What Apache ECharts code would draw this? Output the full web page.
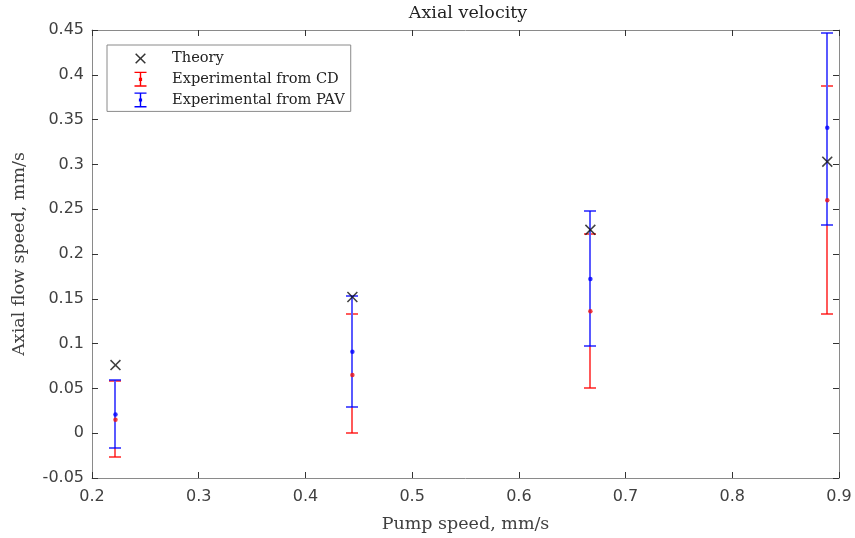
<!DOCTYPE html>
<html>
<head>
<meta charset="utf-8">
<script src="https://cdn.jsdelivr.net/npm/echarts@6/dist/echarts.min.js"></script>
<style>html,body{margin:0;padding:0;background:#fff;}#c{width:855px;height:538px;}</style>
</head>
<body>
<div id="c"></div>
<script>
const pumpSpeed = [0.222, 0.444, 0.667, 0.889];
const theory    = [0.076, 0.152, 0.227, 0.303];
const cdMean    = [0.015, 0.065, 0.136, 0.260];
const cdLow     = [-0.027, 0.000, 0.051, 0.133];
const cdHigh    = [0.058, 0.133, 0.222, 0.388];
const pavMean   = [0.021, 0.091, 0.172, 0.341];
const pavLow    = [-0.016, 0.029, 0.097, 0.232];
const pavHigh   = [0.059, 0.153, 0.248, 0.447];
const xTicks = { min: 0.2, max: 0.9, interval: 0.1 };
const yTicks = { min: -0.05, max: 0.45, interval: 0.05 };

const crossPath = 'path://M0,1L1,0L5,4L9,0L10,1L6,5L10,9L9,10L5,6L1,10L0,9L4,5Z';
const crossLegend = 'path://M-2,-2M12,12M0,1L1,0L5,4L9,0L10,1L6,5L10,9L9,10L5,6L1,10L0,9L4,5Z';
const errLegend = 'path://M0,0H12V1.4H6.7V13.6H12V15H0V13.6H5.3V1.4H0Z M4.4,6H7.6V9.2H4.4Z';

function errRender(color, underlay) {
  return function (params, api) {
    const x = api.value(0), lo = api.value(1), hi = api.value(2);
    const pL = api.coord([x, lo]), pH = api.coord([x, hi]);
    const px = Math.round(pL[0]), yl = Math.round(pL[1]), yh = Math.round(pH[1]);
    const hw = 6;
    const st = { stroke: color, lineWidth: 1.3 };
    const children = [];
    if (underlay) {
      children.push({ type: 'line', shape: { x1: px, y1: yl, x2: px, y2: yh }, style: { stroke: '#fff', lineWidth: 2 } });
    }
    children.push(
      { type: 'line', shape: { x1: px, y1: yl, x2: px, y2: yh }, style: st },
      { type: 'line', shape: { x1: px - hw, y1: yl, x2: px + hw, y2: yl }, style: st },
      { type: 'line', shape: { x1: px - hw, y1: yh, x2: px + hw, y2: yh }, style: st }
    );
    return { type: 'group', children: children };
  };
}

const axisColor = '#8a8a8a';
const labelColor = '#404040';
const fmt = v => String(+v.toFixed(2));

function xAx(pos, show) {
  return {
    type: 'value', position: pos, min: xTicks.min, max: xTicks.max, interval: xTicks.interval,
    axisLine: { show: true, onZero: false, lineStyle: { color: axisColor, width: 1 } },
    axisTick: { show: true, inside: true, length: 6, lineStyle: { color: '#333' } },
    axisLabel: { show: show, formatter: fmt, margin: 11, color: labelColor, fontFamily: 'DejaVu Sans', fontSize: 16 },
    splitLine: { show: false },
    name: show ? 'Pump speed, mm/s' : '', nameLocation: 'middle', nameGap: 37,
    nameTextStyle: { fontFamily: 'DejaVu Serif', fontSize: 17.5, color: labelColor }
  };
}
function yAx(pos, show) {
  return {
    type: 'value', position: pos, min: yTicks.min, max: yTicks.max, interval: yTicks.interval,
    axisLine: { show: true, onZero: false, lineStyle: { color: axisColor, width: 1 } },
    axisTick: { show: true, inside: true, length: 6, lineStyle: { color: '#333' } },
    axisLabel: { show: show, formatter: fmt, margin: 8, color: labelColor, fontFamily: 'DejaVu Sans', fontSize: 16 },
    splitLine: { show: false },
    name: show ? 'Axial flow speed, mm/s' : '', nameLocation: 'middle', nameGap: 64,
    nameTextStyle: { fontFamily: 'DejaVu Serif', fontSize: 17.5, color: labelColor }
  };
}

const chart = echarts.init(document.getElementById('c'), null, { renderer: 'canvas' });
chart.setOption({
  backgroundColor: '#fff',
  animation: false,
  title: {
    text: 'Axial velocity', left: 468, top: 4, textAlign: 'center', padding: 0,
    textStyle: { fontFamily: 'DejaVu Serif', fontSize: 17.5, fontWeight: 'normal', color: '#222' }
  },
  grid: { left: 92, right: 16, top: 30, bottom: 60, containLabel: false },
  legend: {
    orient: 'vertical', left: 107, top: 45, padding: [6, 6, 4, 26],
    itemWidth: 53, itemHeight: 15, itemGap: 5.7, symbolKeepAspect: true,
    borderColor: '#8a8a8a', borderWidth: 1, backgroundColor: '#fff',
    textStyle: { fontFamily: 'DejaVu Serif', fontSize: 14.6, color: '#222' },
    data: [
      { name: 'Theory', icon: crossLegend, itemStyle: { color: '#000' } },
      { name: 'Experimental from CD', icon: errLegend, itemStyle: { color: '#ff0000' } },
      { name: 'Experimental from PAV', icon: errLegend, itemStyle: { color: '#0000ff' } }
    ]
  },
  xAxis: [xAx('bottom', true), xAx('top', false)],
  yAxis: [yAx('left', true), yAx('right', false)],
  series: [
    {
      name: 'Experimental from CD', type: 'custom', z: 2, itemStyle: { color: '#ff0000' },
      renderItem: errRender('#ff0000', false),
      encode: { x: 0, y: [1, 2] },
      data: pumpSpeed.map((x, i) => [x, cdLow[i], cdHigh[i]])
    },
    {
      name: 'Experimental from PAV', type: 'custom', z: 2, itemStyle: { color: '#0000ff' },
      renderItem: errRender('#0000ff', true),
      encode: { x: 0, y: [1, 2] },
      data: pumpSpeed.map((x, i) => [x, pavLow[i], pavHigh[i]])
    },
    {
      name: 'Experimental from CD', type: 'scatter', z: 3, symbol: 'circle', symbolSize: 4.5,
      itemStyle: { color: '#f01010' },
      data: pumpSpeed.map((x, i) => [x, cdMean[i]])
    },
    {
      name: 'Experimental from PAV', type: 'scatter', z: 4, symbol: 'circle', symbolSize: 4.5,
      itemStyle: { color: '#0000ff' },
      data: pumpSpeed.map((x, i) => [x, pavMean[i]])
    },
    {
      name: 'Theory', type: 'scatter', z: 5, symbol: crossPath, symbolSize: 11,
      itemStyle: { color: '#111' },
      data: pumpSpeed.map((x, i) => [x, theory[i]])
    }
  ]
});
</script>
</body>
</html>
